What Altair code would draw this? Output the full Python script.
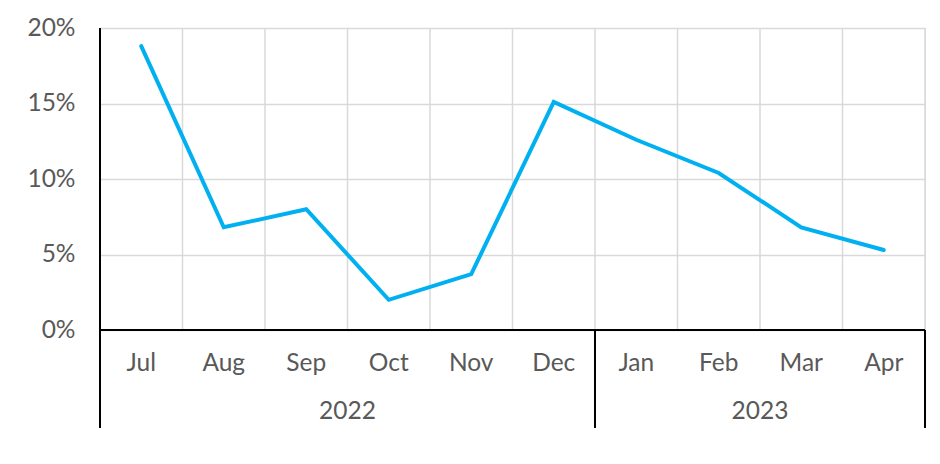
import altair as alt
import pandas as pd

months = ["Jul", "Aug", "Sep", "Oct", "Nov", "Dec", "Jan", "Feb", "Mar", "Apr"]
values = [0.188, 0.068, 0.080, 0.020, 0.037, 0.151, 0.126, 0.104, 0.068, 0.053]
years = ["2022", "2023"]
year_centers = [3.0, 8.0]
separators = [0, 6, 10]
y_ticks = [0, 0.05, 0.10, 0.15, 0.20]

W, H = 825, 302
FONT = "Lato"
TXT = "#595959"
FS = 24.5
FW = 400
GRID = "#d9d9d9"

df = pd.DataFrame({"pos": [i + 0.5 for i in range(len(months))], "month": months, "value": values})
grid_df = pd.DataFrame({"x": list(range(1, len(months) + 1))})
sep_df = pd.DataFrame({"x": separators})
year_df = pd.DataFrame({"x": year_centers, "year": years})

xs = alt.Scale(domain=[0, len(months)], nice=False, zero=False)
ys = alt.Scale(domain=[0, 0.20], nice=False)

vgrid = alt.Chart(grid_df).mark_rule(color=GRID, strokeWidth=1.5).encode(
    x=alt.X("x:Q", scale=xs, axis=None),
    y=alt.value(0),
    y2=alt.value(H),
)

line = alt.Chart(df).mark_line(color="#00B0F0", strokeWidth=4, strokeCap="round", strokeJoin="miter").encode(
    x=alt.X("pos:Q", scale=xs, axis=None),
    y=alt.Y("value:Q", scale=ys, axis=alt.Axis(
        values=y_ticks, format=".0%", grid=True, gridColor=GRID, gridWidth=1.5,
        domain=False, ticks=False, labelFont=FONT, labelFontSize=FS, labelFontWeight=FW,
        labelColor=TXT, labelPadding=25, title=None)),
)

xaxis_line = alt.Chart(pd.DataFrame({"a": [0], "b": [len(months)]})).mark_rule(color="black", strokeWidth=2).encode(
    x=alt.X("a:Q", scale=xs, axis=None),
    x2="b:Q",
    y=alt.value(H),
)

left_line = alt.Chart(pd.DataFrame({"x": [0]})).mark_rule(color="black", strokeWidth=2).encode(
    x=alt.X("x:Q", scale=xs, axis=None),
    y=alt.value(0),
    y2=alt.value(H + 98),
)

seps = alt.Chart(sep_df).mark_rule(color="black", strokeWidth=2).encode(
    x=alt.X("x:Q", scale=xs, axis=None),
    y=alt.value(H),
    y2=alt.value(H + 98),
)

month_text = alt.Chart(df).mark_text(font=FONT, fontSize=FS, fontWeight=FW, color=TXT, baseline="middle").encode(
    x=alt.X("pos:Q", scale=xs, axis=None),
    y=alt.value(H + 34),
    text="month:N",
)

year_text = alt.Chart(year_df).mark_text(font=FONT, fontSize=FS, fontWeight=FW, color=TXT, baseline="middle").encode(
    x=alt.X("x:Q", scale=xs, axis=None),
    y=alt.value(H + 82),
    text="year:N",
)

chart = alt.layer(vgrid, line, xaxis_line, left_line, seps, month_text, year_text).properties(
    width=W, height=H,
    autosize=alt.AutoSizeParams(type="none"),
    padding={"left": 92, "top": 20, "right": 7, "bottom": 126},
).configure_view(stroke=None).configure(background="white")

chart.save("out.html", embed_options={"renderer": "svg", "actions": False})
